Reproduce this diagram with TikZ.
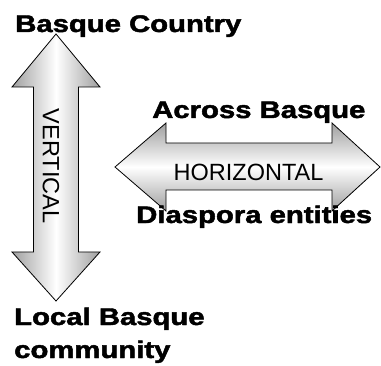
\documentclass[tikz,border=0pt]{standalone}
\usepackage{fontspec}
\setmainfont{Liberation Sans}[BoldFeatures={FakeBold=1.8}]
\usepackage{tikz}
\usetikzlibrary{positioning}

\begin{document}
\begin{tikzpicture}[x=1pt, y=1pt]
\tikzstyle{label} = [font=\fontsize{24}{28}\selectfont\bfseries, xscale=1.22, inner sep=0pt]
\tikzstyle{vshade} = [draw=black, line width=0.8pt, left color=gray!75, right color=gray!75, middle color=white]
\tikzstyle{hshade} = [draw=black, line width=0.8pt, top color=gray!75, bottom color=gray!75, middle color=white]
\tikzstyle{inner} = [font=\fontsize{23.5}{26}\selectfont, inner sep=0pt]

\useasboundingbox (0,0) rectangle (381,365);

% vertical arrow
\shade[vshade] (56,331) -- (100,278) -- (78.5,278) -- (78.5,113) -- (100,113)
  -- (56,64) -- (12,113) -- (33.5,113) -- (33.5,278) -- (12,278) -- cycle;
\node[inner, rotate=-90] (vert) at (51,199) {VERTICAL};

% horizontal arrow
\shade[hshade] (115,198) -- (166,242) -- (166,222) -- (332,222) -- (332,242)
  -- (380,198) -- (332,154) -- (332,175) -- (166,175) -- (166,154) -- cycle;
\node[inner] (horiz) at (248.5,193) {HORIZONTAL};

% labels
\node[label, anchor=base west] (country) at (15,333) {Basque Country};
\node[label, anchor=base west] (across) at (152,247) {Across Basque};
\node[label, anchor=base west] (diaspora) at (136,142) {Diaspora entities};
\node[label, anchor=base west] (local) at (14,40) {Local Basque};
\node[label, anchor=base west] (community) at (14,7) {community};

\end{tikzpicture}
\end{document}
